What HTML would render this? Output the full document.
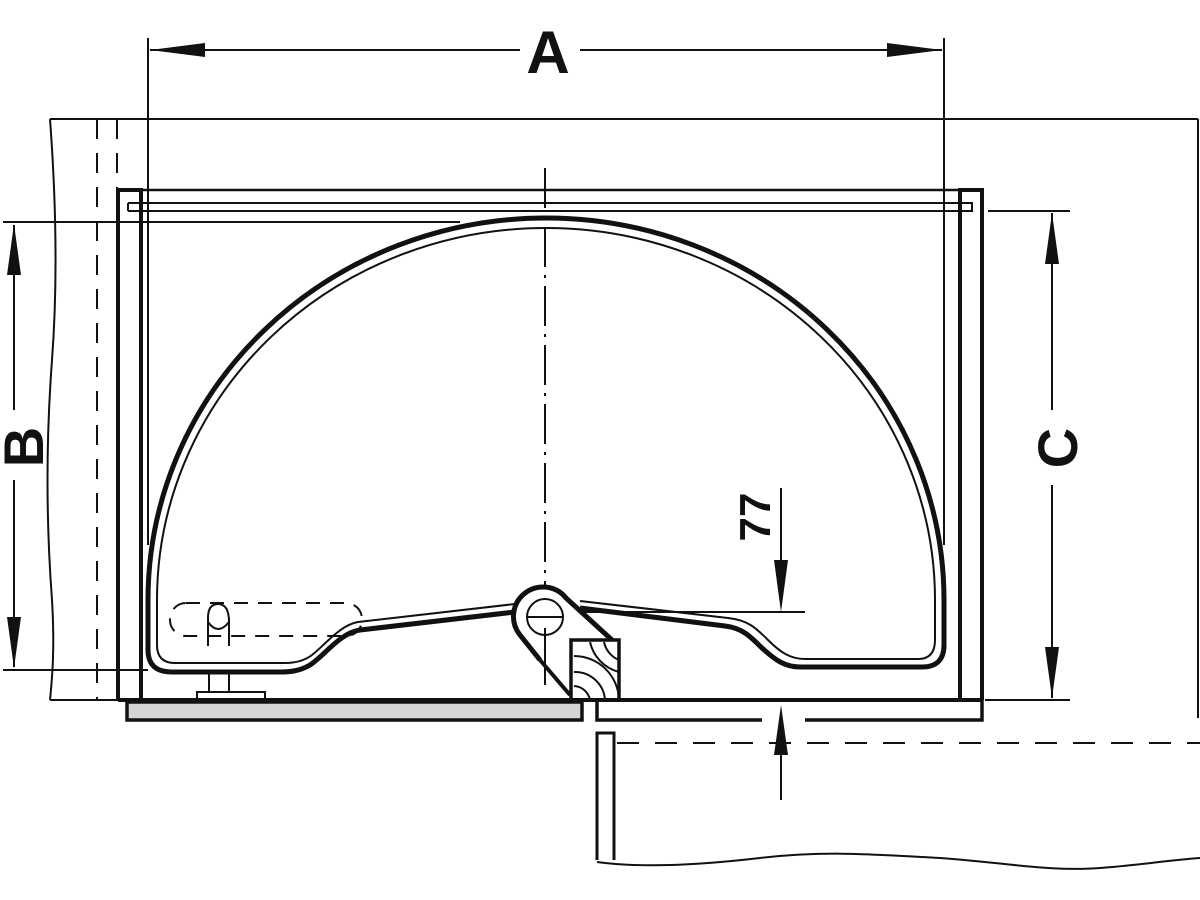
<!DOCTYPE html>
<html><head><meta charset="utf-8"><style>html,body{margin:0;padding:0;background:#fff}svg{display:block}</style></head>
<body>
<svg width="1200" height="900" viewBox="0 0 1200 900" xmlns="http://www.w3.org/2000/svg" fill="none" stroke="#111" stroke-linecap="butt">
<line x1="148" y1="38" x2="148" y2="545" stroke-width="2"/>
<line x1="944" y1="38" x2="944" y2="545" stroke-width="2"/>
<line x1="150" y1="50" x2="520" y2="50" stroke-width="2"/>
<line x1="580" y1="50" x2="942" y2="50" stroke-width="2"/>
<polygon points="150,50 205,43 205,57" fill="#111" stroke="none"/>
<polygon points="942,50 887,43 887,57" fill="#111" stroke="none"/>
<text x="548" y="73" font-family="Liberation Sans, sans-serif" font-weight="bold" font-size="60" text-anchor="middle" fill="#111" stroke="none">A</text>

<line x1="50" y1="119" x2="1198" y2="119" stroke-width="2"/>
<line x1="1198" y1="119" x2="1198" y2="718" stroke-width="2"/>
<path d="M50,119 C56,200 58,280 52,360 C46,440 46,520 52,600 C55,650 52,680 50,700" stroke-width="2"/>
<line x1="97" y1="119" x2="97" y2="700" stroke-width="2" stroke-dasharray="20,14"/>
<line x1="117" y1="119" x2="117" y2="700" stroke-width="2" stroke-dasharray="20,14"/>
<line x1="50" y1="700" x2="118" y2="700" stroke-width="2"/>

<path d="M118,700 V190 H141 V700" stroke-width="4"/>
<path d="M960,700 V190 H982 V700" stroke-width="4"/>
<line x1="141" y1="190" x2="960" y2="190" stroke-width="2.5"/>
<path d="M140,203 H972 V211 H140" stroke-width="2"/>
<line x1="128" y1="203" x2="128" y2="211" stroke-width="2"/>
<line x1="128" y1="203" x2="140" y2="203" stroke-width="2"/>
<line x1="128" y1="211" x2="140" y2="211" stroke-width="2"/>
<line x1="3" y1="222" x2="460" y2="222" stroke-width="2"/>

<line x1="14" y1="225" x2="14" y2="410" stroke-width="2"/>
<line x1="14" y1="480" x2="14" y2="667" stroke-width="2"/>
<polygon points="14,224 7,275 21,275" fill="#111" stroke="none"/>
<polygon points="14,668 7,617 21,617" fill="#111" stroke="none"/>
<line x1="3" y1="670" x2="148" y2="670" stroke-width="2"/>
<text transform="translate(43,447) rotate(-90)" font-family="Liberation Sans, sans-serif" font-weight="bold" font-size="56" text-anchor="middle" fill="#111" stroke="none">B</text>

<line x1="988" y1="211" x2="1070" y2="211" stroke-width="2"/>
<line x1="985" y1="700" x2="1070" y2="700" stroke-width="2"/>
<line x1="1052" y1="213" x2="1052" y2="410" stroke-width="2"/>
<line x1="1052" y1="485" x2="1052" y2="698" stroke-width="2"/>
<polygon points="1052,213 1045,264 1059,264" fill="#111" stroke="none"/>
<polygon points="1052,698 1045,647 1059,647" fill="#111" stroke="none"/>
<text transform="translate(1077,448) rotate(-90)" font-family="Liberation Sans, sans-serif" font-weight="bold" font-size="56" text-anchor="middle" fill="#111" stroke="none">C</text>

<path d="M515,612 L360,630 C340,633 325,655 310,665 C300,671 290,672 280,672 L172,672 Q148,672 148,650 L148,600 A398,382 0 0 1 944,600 L944,645 Q944,667 922,667 L800,667 C785,667 775,660 762,648 C750,636 742,628 725,626 L580,608" stroke-width="5"/>
<path d="M515,604 L358,622 C340,625 325,645 312,655 C304,661 295,663 285,663 L175,663 Q157,663 157,645 L157,600 A389,372 0 0 1 935,600 L935,640 Q935,659 918,659 L805,659 C790,659 780,652 768,640 C756,628 748,620 728,618 L580,601" stroke-width="2"/>

<line x1="545" y1="168" x2="545" y2="640" stroke-width="2" stroke-dasharray="40,8,3,8"/>

<rect x="170" y="603" width="192" height="33" rx="16" stroke-width="2" stroke-dasharray="14,10"/>
<path d="M208,646 V618 M229,646 V618 M208,622 Q218,636 229,622 Q229,604 218,604 Q208,604 208,618" stroke-width="2"/>

<path d="M209,672 V692 M229,672 V692" stroke-width="2"/>
<rect x="197" y="692" width="68" height="7" stroke-width="2" fill="#fff"/>

<path d="M540,660 L520,635 A28,28 0 1 1 566,598 L612,640" stroke-width="5" fill="#fff"/>
<path d="M540,660 L570,695" stroke-width="4"/>
<circle cx="545" cy="617" r="18" stroke-width="2"/>
<line x1="527" y1="617" x2="563" y2="617" stroke-width="2"/>
<line x1="545" y1="628" x2="545" y2="685" stroke-width="2"/>

<rect x="571" y="640" width="48" height="60" stroke-width="3.5" fill="#fff"/>
<g stroke-width="2">
<path d="M574,656 A45,45 0 0 1 619,700"/>
<path d="M574,672 A30,30 0 0 1 605,700"/>
<path d="M574,686 A17,17 0 0 1 590,700"/>
<path d="M590,642 A40,40 0 0 0 619,672"/>
<path d="M604,642 A25,25 0 0 0 619,660"/>
</g>

<line x1="118" y1="700" x2="982" y2="700" stroke-width="4"/>
<rect x="127" y="702" width="455" height="18" fill="#d3d4d6" stroke-width="3.5"/>
<path d="M597,702 V720 H762 M805,720 H982 V700" stroke-width="3.5"/>

<path d="M597,860 V733 H614 V860" stroke-width="3"/>
<line x1="617" y1="743" x2="1200" y2="743" stroke-width="2" stroke-dasharray="22,16"/>
<path d="M597,862 C640,868 700,865 760,858 C830,850 880,855 940,858 C1000,862 1050,872 1100,868 C1140,865 1170,860 1200,858" stroke-width="2"/>

<line x1="781" y1="488" x2="781" y2="570" stroke-width="2"/>
<polygon points="781,612 774,560 788,560" fill="#111" stroke="none"/>
<line x1="580" y1="612" x2="805" y2="612" stroke-width="2"/>
<text transform="translate(770,517) rotate(-90)" font-family="Liberation Sans, sans-serif" font-weight="bold" font-size="44" text-anchor="middle" fill="#111" stroke="none">77</text>
<line x1="781" y1="800" x2="781" y2="750" stroke-width="2"/>
<polygon points="781,705 774,755 788,755" fill="#111" stroke="none"/>
</svg>
</body></html>
